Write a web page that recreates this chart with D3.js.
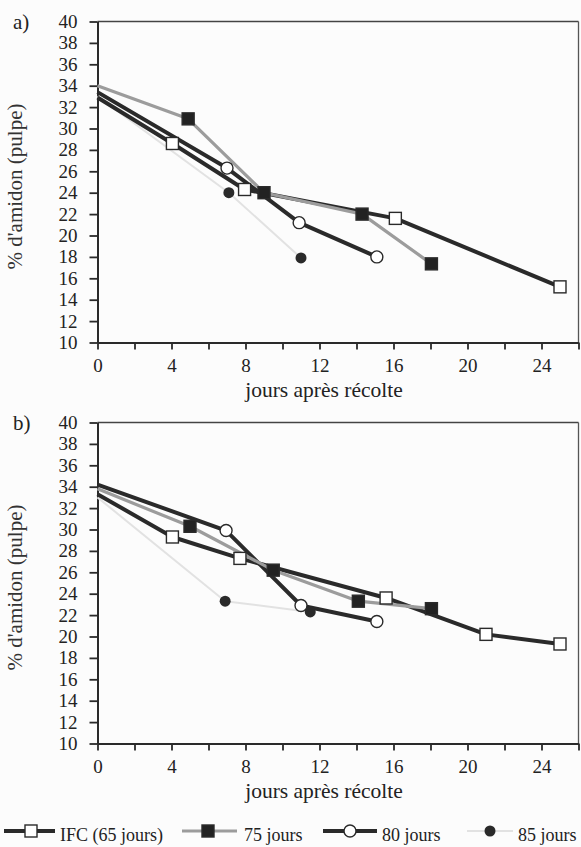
<!DOCTYPE html>
<html><head><meta charset="utf-8">
<script src="https://cdn.jsdelivr.net/npm/d3@7"></script>
<style>
html,body{margin:0;padding:0;background:#fcfcfc;}
svg{display:block;}
</style></head>
<body>
<script>
// ---- DATA ----
const seriesNames = ["IFC (65 jours)", "75 jours", "80 jours", "85 jours"];
const xTickValues = [0,2,4,6,8,10,12,14,16,18,20,22,24,26];
const xTickLabels = [0,4,8,12,16,20,24];
const yTickValues = [10,12,14,16,18,20,22,24,26,28,30,32,34,36,38,40];

// panel a)
const a_ifc = [[0,32.9],[4.05,28.6],[7.95,24.3],[16.1,21.6],[25,15.2]];
const a_75  = [[0,34.0],[4.9,30.9],[9.0,24.0],[14.3,22.0],[18.05,17.35]];
const a_80  = [[0,33.4],[7.0,26.3],[10.9,21.2],[15.1,18.0]];
const a_85  = [[0,33.0],[7.1,24.0],[11.0,17.9]];
// panel b)
const b_ifc = [[0,33.3],[4.05,29.3],[7.7,27.3],[15.6,23.6],[21.0,20.2],[25.0,19.3]];
const b_75  = [[0,33.8],[5.0,30.3],[9.5,26.2],[14.1,23.3],[18.05,22.6]];
const b_80  = [[0,34.2],[6.95,29.9],[11.0,22.9],[15.1,21.4]];
const b_85  = [[0,33.0],[6.9,23.3],[11.5,22.3]];

const panelLabels = ["a)", "b)"];
const yTitle = "% d'amidon (pulpe)";
const xTitle = "jours après récolte";

// ---- STYLE ----
const FONT = "Liberation Serif";
const DARK = "#2a2a2a";
const styles = [
  {line: DARK, width: 4, marker: "square", fill: "#fff"},
  {line: "#9c9c9c", width: 3.2, marker: "square", fill: "#222"},
  {line: DARK, width: 4, marker: "circle", fill: "#fff"},
  {line: "#e2e2e2", width: 2, marker: "dot", fill: "#2a2a2a"}
];

const W = 581, H = 847;
const svg = d3.select("body").append("svg").attr("width", W).attr("height", H)
  .style("font-family", FONT);

const x = d3.scaleLinear().domain([0,26]).range([97.5, 578.5]);

function drawMarker(g, type, cx, cy, fill) {
  if (type === "square") {
    g.append("rect").attr("x", cx-6).attr("y", cy-6).attr("width", 12).attr("height", 12)
      .attr("fill", fill).attr("stroke", DARK).attr("stroke-width", 1.4);
  } else if (type === "circle") {
    g.append("circle").attr("cx", cx).attr("cy", cy).attr("r", 6)
      .attr("fill", fill).attr("stroke", DARK).attr("stroke-width", 1.4);
  } else {
    g.append("circle").attr("cx", cx).attr("cy", cy).attr("r", 5.5)
      .attr("fill", fill).attr("stroke", "none");
  }
}

function panel(top, bottom, data, label) {
  const y = d3.scaleLinear().domain([10,40]).range([bottom, top]);
  const g = svg.append("g");

  g.append("line").attr("x1", x(0)).attr("x2", x(26)).attr("y1", y(40)).attr("y2", y(40))
    .attr("stroke", "#444").attr("stroke-width", 1.3);
  g.append("line").attr("x1", x(26)).attr("x2", x(26)).attr("y1", y(40)).attr("y2", y(10))
    .attr("stroke", "#555").attr("stroke-width", 1.3);

  const ya = g.append("g").attr("transform", `translate(${x(0)},0)`)
    .call(d3.axisLeft(y).tickValues(yTickValues).tickSize(8).tickSizeOuter(0).tickPadding(12));
  const xa = g.append("g").attr("transform", `translate(0,${y(10)})`)
    .call(d3.axisBottom(x).tickValues(xTickValues).tickSize(7).tickSizeOuter(0).tickPadding(9)
      .tickFormat(d => xTickLabels.includes(d) ? d : ""));
  [ya, xa].forEach(a => {
    a.attr("font-family", FONT);
    a.select(".domain").attr("stroke", DARK).attr("stroke-width", 2);
    a.selectAll(".tick line").attr("stroke", DARK).attr("stroke-width", 1.8);
    a.selectAll(".tick text").attr("fill", "#222").attr("font-family", FONT)
      .style("font-family", FONT).style("font-size", "19px");
  });

  g.append("text").attr("x", 13).attr("y", top + 7).text(label)
    .attr("fill", "#222").style("font-family", FONT).style("font-size", "21px");
  g.append("text").attr("transform", `translate(22,${(top+bottom)/2 + 4.5}) rotate(-90)`)
    .attr("text-anchor", "middle").text(yTitle).attr("fill", "#333")
    .style("font-family", FONT).style("font-size", "21px");
  g.append("text").attr("x", 324).attr("y", bottom + 54).attr("text-anchor", "middle")
    .text(xTitle).attr("fill", "#222").style("font-family", FONT).style("font-size", "21.5px");

  const line = d3.line().x(d => x(d[0])).y(d => y(d[1]));
  const order = [3, 0, 2, 1];
  order.forEach(i => {
    g.append("path").datum(data[i]).attr("d", line).attr("fill", "none")
      .attr("stroke", styles[i].line).attr("stroke-width", styles[i].width)
      .attr("stroke-linejoin", "round");
  });
  order.forEach(i => {
    const s = styles[i];
    data[i].slice(1).forEach(d => drawMarker(g, s.marker, x(d[0]), y(d[1]), s.fill));
  });
}

panel(21.5, 342.5, [a_ifc, a_75, a_80, a_85], panelLabels[0]);
panel(422.5, 743.5, [b_ifc, b_75, b_80, b_85], panelLabels[1]);

const legendLayout = [
  {x1: 4, x2: 55, m: 31, t: 60},
  {x1: 182, x2: 237, m: 208, t: 244},
  {x1: 323, x2: 377, m: 350, t: 382},
  {x1: 467, x2: 513, m: 490, t: 518}
];
const lg = svg.append("g");
const ly = 831;
seriesNames.forEach((name, i) => {
  const L = legendLayout[i], s = styles[i];
  lg.append("line").attr("x1", L.x1).attr("x2", L.x2).attr("y1", ly).attr("y2", ly)
    .attr("stroke", s.line).attr("stroke-width", s.width);
  drawMarker(lg, s.marker, L.m, ly, s.fill);
  lg.append("text").attr("x", L.t).attr("y", ly + 10).text(name)
    .attr("fill", "#222").style("font-family", FONT).style("font-size", "18px");
});
</script>
</body></html>
